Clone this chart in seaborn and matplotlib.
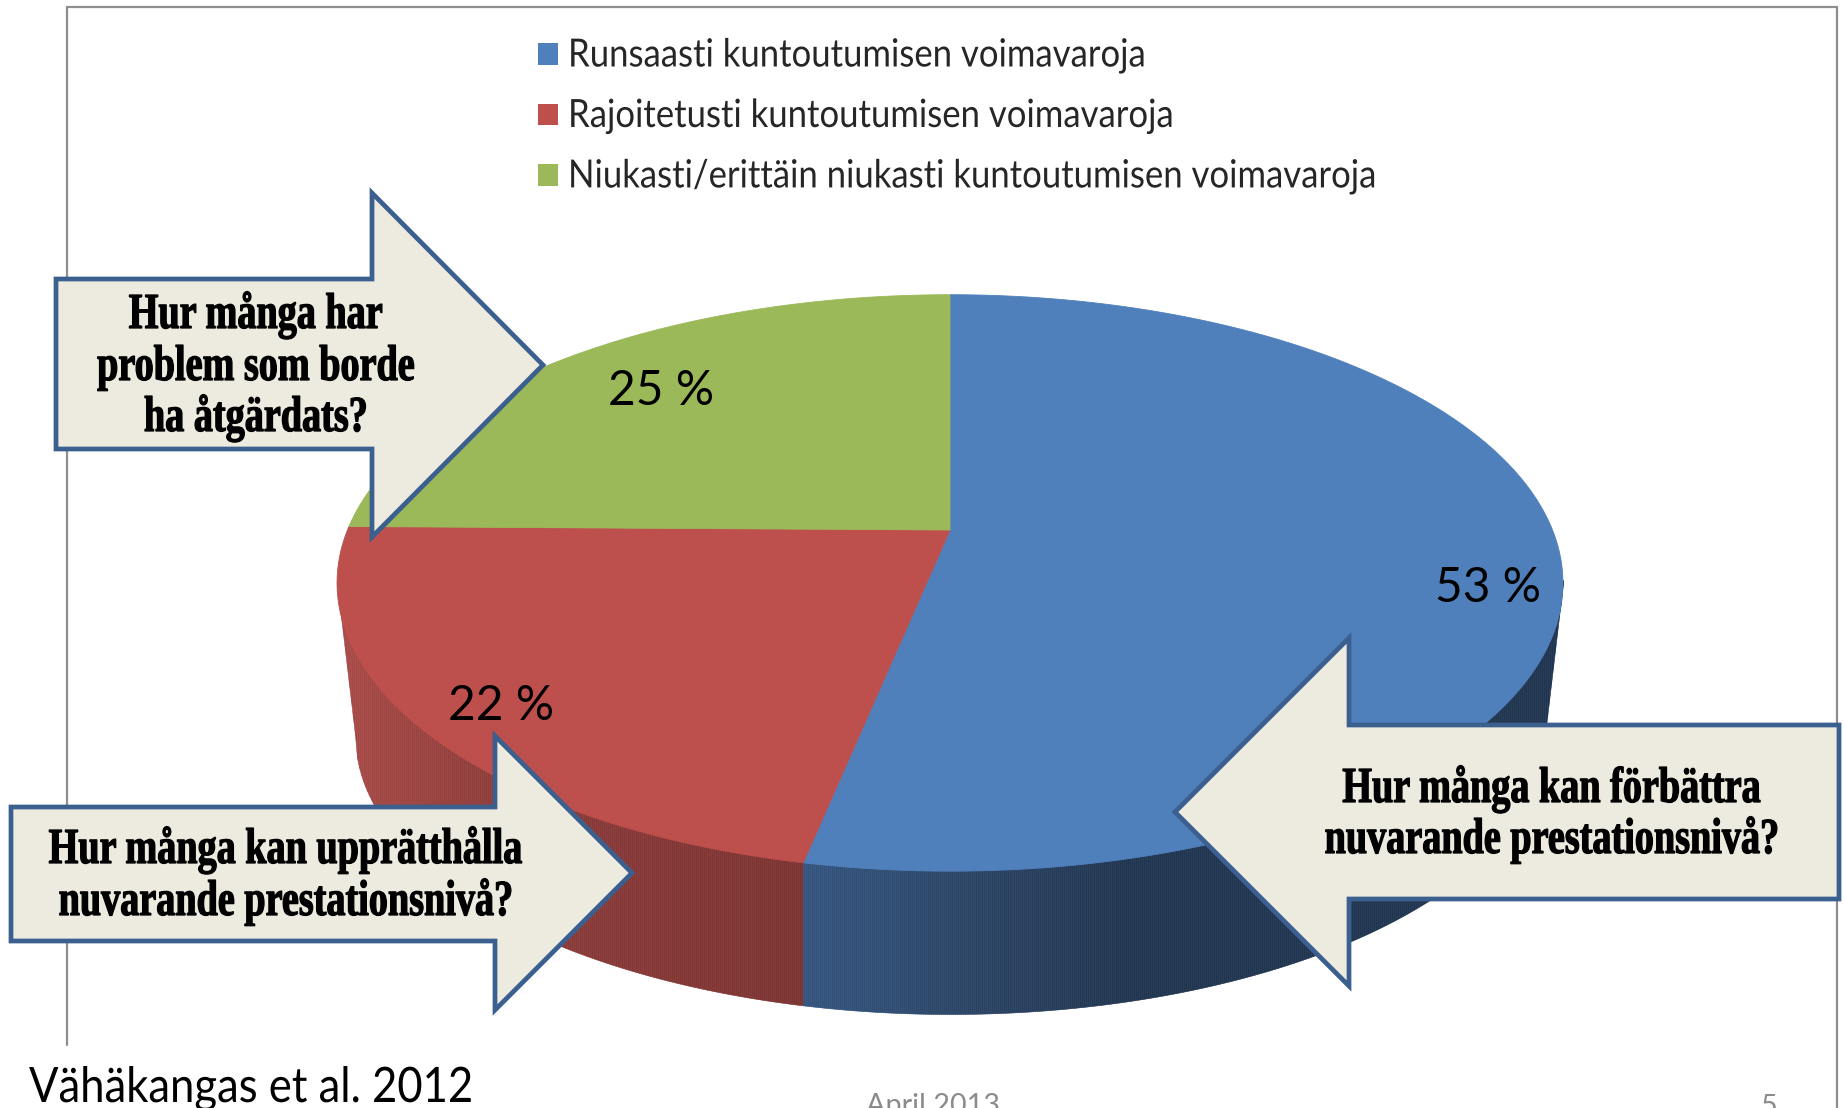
import numpy as np
import matplotlib
matplotlib.use("Agg")
import matplotlib.pyplot as plt
import matplotlib.patheffects as pe
from matplotlib.patches import Patch, Polygon
from matplotlib.colors import to_rgb
from matplotlib.transforms import Affine2D
import seaborn as sns

# ---- data ----
categories = ["Runsaasti kuntoutumisen voimavaroja",
              "Rajoitetusti kuntoutumisen voimavaroja",
              "Niukasti/erittäin niukasti kuntoutumisen voimavaroja"]
shares = [53.2, 22.0, 24.8]
share_labels = ["53 %", "22 %", "25 %"]
colors = ["#4f80bc", "#bd4f4c", "#9bb958"]
callout_right_1 = ["Hur många har", "problem som borde", "ha åtgärdats?"]
callout_right_2 = ["Hur många kan upprätthålla", "nuvarande prestationsnivå?"]
callout_left = ["Hur många kan förbättra", "nuvarande prestationsnivå?"]
source = "Vähäkangas et al. 2012"
footer_date = "April 2013"
footer_page = "5"

W, H = 1845, 1108
sns.set_theme(style="white")
plt.rcParams["font.family"] = ["Lato", "DejaVu Sans"]
palette = sns.color_palette(colors)

fig = plt.figure(figsize=(W / 100, H / 100), dpi=100, facecolor="white")
ax = fig.add_axes([0, 0, 1, 1])
ax.set_xlim(0, W)
ax.set_ylim(H, 0)
ax.axis("off")


class Stretch(pe.AbstractPathEffect):
    """Stretch glyphs vertically about the baseline, optionally embolden."""
    def __init__(self, k, bold=0.0):
        super().__init__()
        self.k, self.bold = k, bold

    def draw_path(self, renderer, gc, tpath, affine, rgbFace=None):
        g = renderer.new_gc()
        g.copy_properties(gc)
        g.set_linewidth(self.bold)
        g.set_foreground(rgbFace if rgbFace is not None else "black")
        renderer.draw_path(g, tpath, Affine2D().scale(1, self.k) + affine, rgbFace)
        g.restore()


# perspective projection of the unit disc
CX, CY = 950, 530
A, B, K = 602.5, 278.5, 0.1837


def project(theta):
    x, y = np.sin(theta), np.cos(theta)
    d = 1 + K * y
    return CX + A * x / d, CY - B * y / d


# side wall
TOP_CY, TOP_RX, TOP_RY = 583, 613, 288
BOT_CY, BOT_RX, BOT_RY = 735, 595, 279
xs = np.arange(CX - TOP_RX, CX + TOP_RX + 1, 2.0)
top_lo = TOP_CY + TOP_RY * np.sqrt(np.clip(1 - ((xs - CX) / TOP_RX) ** 2, 0, 1))
bot_lo = BOT_CY + BOT_RY * np.sqrt(np.clip(1 - ((xs - CX) / BOT_RX) ** 2, 0, 1))
bot_lo = np.where(np.abs(xs - CX) > BOT_RX,
                  TOP_CY + (BOT_CY - TOP_CY) * (TOP_RX - np.abs(xs - CX)) / (TOP_RX - BOT_RX),
                  bot_lo)
split_x = project(np.radians(shares[0] / 100 * 360))[0]
red_stops = ([337, 500, 806], ["#a94a47", "#8c3b39", "#7b3230"])
blue_stops = ([806, 1000, 1130, 1565], ["#33547e", "#284060", "#1f344f", "#1f344f"])


def ramp(x, stops):
    pos, cols = stops
    arr = np.array([to_rgb(c) for c in cols])
    return tuple(np.interp(x, pos, arr[:, i]) for i in range(3))


for i in range(len(xs) - 1):
    xm = (xs[i] + xs[i + 1]) / 2
    c = ramp(xm, red_stops) if xm < split_x else ramp(xm, blue_stops)
    ax.fill_between(xs[i:i + 2], top_lo[i:i + 2] - 3, bot_lo[i:i + 2],
                    color=c, lw=0.4, zorder=1)

# top face
edges = np.cumsum([0] + shares) / sum(shares) * 2 * np.pi
for s, e, c in zip(edges[:-1], edges[1:], palette):
    t = np.linspace(s, e, 300)
    px, py = project(t)
    ax.fill(np.r_[CX, px], np.r_[CY, py], color=c, lw=0.6, zorder=2)

# value labels
label_pos = [(1488, 588), (501, 706), (661, 391)]
for txt, (lx, ly) in zip(share_labels, label_pos):
    ax.text(lx, ly, txt, fontsize=34.5, color="black", ha="center", va="center", zorder=3)

# frame
ax.plot([67, 67, 1837, 1837], [1045, 7, 7, H], color="#8e8e8e", lw=1.6, zorder=0,
        solid_joinstyle="miter")

# legend
handles = [Patch(facecolor=c, edgecolor="none") for c in palette]
FS = 25
px_em = FS * 100 / 72
leg = ax.legend(handles, categories, loc="upper left", bbox_to_anchor=(538 / W, 1 - 40.5 / H),
                frameon=False, fontsize=FS, handlelength=20 / px_em, handleheight=20 / px_em,
                handletextpad=10 / px_em, labelspacing=0.82, borderpad=0, borderaxespad=0)
for t in leg.get_texts():
    t.set_path_effects([Stretch(1.12)])

# callouts
FILL, LINE = "#edebe0", "#3b5f8e"
arrows = [
    [(56, 279), (372, 279), (372, 193), (543, 365), (372, 537), (372, 449), (56, 449)],
    [(11, 807), (495, 807), (495, 736), (632, 873), (495, 1010), (495, 941), (11, 941)],
    [(1839, 725), (1349, 725), (1349, 638), (1175, 812), (1349, 986), (1349, 899), (1839, 899)],
]
for pts in arrows:
    ax.add_patch(Polygon(pts, closed=True, facecolor=FILL, edgecolor=LINE, lw=3.4,
                         joinstyle="miter", zorder=4))

callouts = [(callout_right_1, 256, [328, 380, 431]),
            (callout_right_2, 286, [863, 915]),
            (callout_left, 1552, [802, 853])]
for lines, cx, bases in callouts:
    for line, base in zip(lines, bases):
        ax.text(cx, base, line, ha="center", va="baseline", fontsize=27.5, color="black",
                family="Liberation Serif", fontweight="bold", zorder=5,
                path_effects=[Stretch(1.32, bold=0.9)])

# source and footer
ax.text(29, 1102, source, fontsize=31.4, color="black", ha="left", va="baseline",
        path_effects=[Stretch(1.12)], zorder=5)
ax.text(933, 1114, footer_date, fontsize=20.7, color="#8b8b8b", ha="center", va="baseline", zorder=5)
ax.text(1769, 1115, footer_page, fontsize=20.7, color="#8b8b8b", ha="center", va="baseline", zorder=5)

fig.savefig("out.png", dpi=100, facecolor="white")
